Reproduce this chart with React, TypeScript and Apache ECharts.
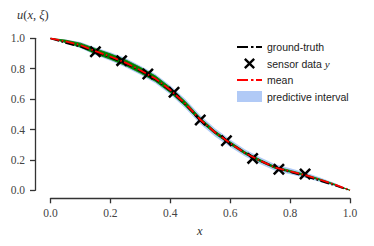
import React, { useEffect, useRef } from "react";
import * as echarts from "echarts";

const xGrid = [0, 0.05, 0.1, 0.15, 0.2, 0.25, 0.3, 0.35, 0.4, 0.45, 0.5, 0.55, 0.6, 0.65, 0.7, 0.75, 0.8, 0.85, 0.9, 0.95, 1.0];
const meanVals = [1.0, 0.98, 0.955, 0.915, 0.88, 0.84, 0.79, 0.735, 0.66, 0.57, 0.465, 0.38, 0.31, 0.245, 0.195, 0.15, 0.125, 0.1, 0.07, 0.037, 0];
const truthVals = [1.0, 0.97, 0.945, 0.91, 0.875, 0.835, 0.785, 0.73, 0.655, 0.565, 0.465, 0.38, 0.31, 0.245, 0.195, 0.15, 0.12, 0.093, 0.063, 0.032, 0];
const blueUpper = [1.0, 0.992, 0.975, 0.94, 0.908, 0.87, 0.82, 0.765, 0.69, 0.6, 0.493, 0.407, 0.335, 0.268, 0.217, 0.171, 0.145, 0.118, 0.085, 0.047, 0];
const blueLower = [1.0, 0.968, 0.935, 0.89, 0.852, 0.81, 0.76, 0.705, 0.63, 0.54, 0.437, 0.353, 0.285, 0.222, 0.173, 0.129, 0.105, 0.082, 0.055, 0.027, 0];
const greenUpper = [1.0, 0.988, 0.968, 0.932, 0.898, 0.859, 0.809, 0.753, 0.677, 0.585, 0.477, 0.39, 0.319, 0.253, 0.202, 0.156, 0.131, 0.105, 0.074, 0.04, 0];
const greenLower = [1.0, 0.972, 0.942, 0.898, 0.862, 0.821, 0.771, 0.717, 0.643, 0.555, 0.453, 0.37, 0.301, 0.237, 0.188, 0.144, 0.119, 0.095, 0.066, 0.034, 0];

const sensorX = [0.15, 0.2375, 0.325, 0.4125, 0.5, 0.5875, 0.675, 0.7625, 0.85];
const sensorY = [0.912, 0.853, 0.765, 0.645, 0.4625, 0.326, 0.21, 0.138, 0.107];

const tickLabels = ["0.0", "0.2", "0.4", "0.6", "0.8", "1.0"];

const X_PATH = "path://M3,0 L10,7 L17,0 L20,3 L13,10 L20,17 L17,20 L10,13 L3,20 L0,17 L7,10 L0,3 Z";
const DASHDOT_PATH = "path://M0,0h11v2h-11z M14,0h2.5v2h-2.5z M19,0h6v2h-6z";
const BLUE = "rgba(100,149,237,0.5)";
const GREEN = "#008000";
const SERIF = "'Liberation Serif', 'DejaVu Serif', serif";
const SANS = "'Liberation Sans', 'DejaVu Sans', sans-serif";

const PLOT_LEFT = 50.5;
const PLOT_TOP = 38.3;
const PLOT_W = 299.5;
const PLOT_H = 152;
const Y_SPINE_OFFSET = 15.5;
const X_SPINE_OFFSET = 8;

function bandSeries(name: string, upper: number[], lower: number[], fill: string, stroke: string | null, z: number) {
  return {
    name,
    type: "custom",
    z,
    xAxisIndex: 0,
    yAxisIndex: 0,
    itemStyle: { color: fill },
    data: [0],
    renderItem: (params: any, api: any) => {
      const pts: number[][] = [];
      for (let i = 0; i < xGrid.length; i++) pts.push(api.coord([xGrid[i], upper[i]]));
      for (let i = xGrid.length - 1; i >= 0; i--) pts.push(api.coord([xGrid[i], lower[i]]));
      return {
        type: "polygon",
        shape: { points: pts },
        style: { fill, stroke: stroke || "none", lineWidth: stroke ? 0.8 : 0 },
      };
    },
  };
}

export default function App() {
  const ref = useRef<HTMLDivElement>(null);
  useEffect(() => {
    if (!ref.current) return;
    const chart = echarts.init(ref.current, null, { renderer: "svg" });
    const hiddenAxis = (gridIndex: number) => ({
      type: "value",
      gridIndex,
      min: 0,
      max: 1,
      show: false,
    });
    const visibleAxis = (gridIndex: number, margin: number) => ({
      type: "value",
      gridIndex,
      min: 0,
      max: 1,
      interval: 0.2,
      splitLine: { show: false },
      axisLine: { show: true, onZero: false, lineStyle: { color: "#333", width: 1.3 } },
      axisTick: { show: true, length: 5, inside: false, lineStyle: { color: "#333", width: 1.3 } },
      axisLabel: {
        fontFamily: SERIF,
        fontSize: 11.5,
        color: "#444",
        margin,
        formatter: (v: number) => tickLabels[Math.round(v / 0.2)],
      },
    });
    chart.setOption({
      animation: false,
      grid: [
        { left: PLOT_LEFT, top: PLOT_TOP, width: PLOT_W, height: PLOT_H, containLabel: false },
        { left: PLOT_LEFT - Y_SPINE_OFFSET, top: PLOT_TOP, width: PLOT_W, height: PLOT_H, containLabel: false },
        { left: PLOT_LEFT, top: PLOT_TOP + X_SPINE_OFFSET, width: PLOT_W, height: PLOT_H, containLabel: false },
      ],
      xAxis: [
        { ...hiddenAxis(0), position: "bottom" },
        { ...hiddenAxis(1), position: "bottom" },
        { ...visibleAxis(2, 9), position: "bottom" },
      ],
      yAxis: [
        { ...hiddenAxis(0), position: "left" },
        { ...visibleAxis(1, 10), position: "left" },
        { ...hiddenAxis(2), position: "left" },
      ],
      legend: {
        orient: "vertical",
        left: 232,
        top: 36,
        itemWidth: 25,
        itemHeight: 11,
        itemGap: 4.5,
        textStyle: {
          fontFamily: SANS,
          fontSize: 10.5,
          color: "#222",
          lineHeight: 12,
          rich: { i: { fontFamily: SERIF, fontStyle: "italic", fontSize: 11, color: "#222", lineHeight: 12 } },
        },
        formatter: (name: string) => (name === "sensor data" ? "sensor data {i|y}" : name),
        data: [
          { name: "ground-truth", icon: DASHDOT_PATH, itemStyle: { color: "#000" } },
          { name: "sensor data", icon: X_PATH },
          { name: "mean", icon: DASHDOT_PATH, itemStyle: { color: "#ff0000" } },
          { name: "predictive interval", icon: "rect", itemStyle: { color: BLUE } },
        ],
      },
      graphic: [
        {
          type: "text",
          left: 17,
          top: 8,
          style: {
            text: "{i|u}({i|x}, {i|ξ})",
            fontFamily: SERIF,
            fontSize: 12.5,
            fill: "#333",
            rich: { i: { fontFamily: SERIF, fontStyle: "italic", fontSize: 12.5, fill: "#333" } },
          },
        },
        {
          type: "text",
          left: 197,
          top: 224,
          style: { text: "x", fontFamily: SERIF, fontStyle: "italic", fontSize: 12.5, fill: "#333" },
        },
      ],
      series: [
        bandSeries("predictive interval", blueUpper, blueLower, BLUE, null, 1),
        bandSeries("samples", greenUpper, greenLower, GREEN, GREEN, 2),
        {
          name: "ground-truth",
          type: "line",
          xAxisIndex: 0,
          yAxisIndex: 0,
          z: 3,
          symbol: "none",
          data: xGrid.map((x, i) => [x, truthVals[i]]),
          itemStyle: { color: "#000" },
          lineStyle: { color: "#000", width: 1.8, type: [9, 2.5, 1.5, 2.5] },
        },
        {
          name: "sensor data",
          type: "scatter",
          xAxisIndex: 0,
          yAxisIndex: 0,
          z: 4,
          symbol: X_PATH,
          symbolSize: 12,
          itemStyle: { color: "#000", opacity: 1 },
          data: sensorX.map((x, i) => [x, sensorY[i]]),
        },
        {
          name: "mean",
          type: "line",
          xAxisIndex: 0,
          yAxisIndex: 0,
          z: 5,
          symbol: "none",
          data: xGrid.map((x, i) => [x, meanVals[i]]),
          itemStyle: { color: "#ff0000" },
          lineStyle: { color: "#ff0000", width: 1.8, type: [9, 2.5, 1.5, 2.5] },
        },
      ],
    });
    return () => chart.dispose();
  }, []);
  return <div ref={ref} style={{ width: 374, height: 246, position: "absolute", left: 0, top: 0 }} />;
}
